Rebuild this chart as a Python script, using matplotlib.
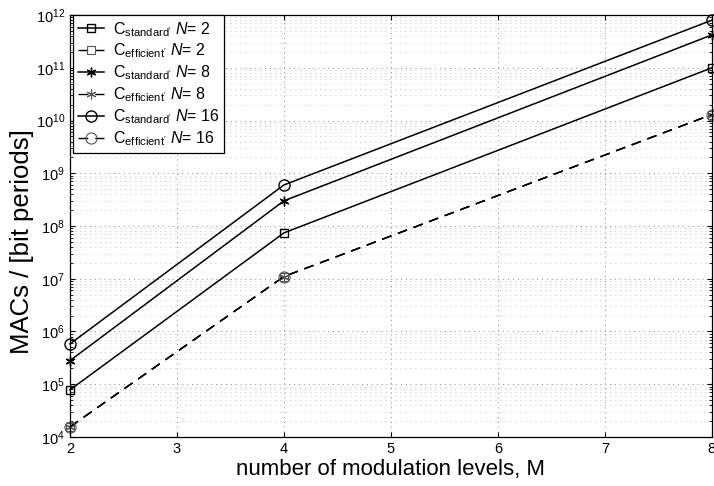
import numpy as np
import matplotlib.pyplot as plt

plt.rcParams['font.family'] = ['Liberation Sans', 'DejaVu Sans']
plt.rcParams['mathtext.fontset'] = 'custom'
plt.rcParams['mathtext.rm'] = 'Liberation Sans'
plt.rcParams['mathtext.it'] = 'Liberation Sans:italic'

# modulation levels
M = [2, 4, 8]

# MACs per bit period
std_N2 = [7.8e4, 7.4e7, 1.0e11]
std_N8 = [2.8e5, 3.0e8, 4.2e11]
std_N16 = [5.8e5, 6.0e8, 8.0e11]
eff_N2 = [1.55e4, 1.1e7, 1.3e10]
eff_N8 = [1.55e4, 1.1e7, 1.3e10]
eff_N16 = [1.55e4, 1.1e7, 1.3e10]

labels = [
    r"C$_{\mathrm{standard'}}$ $\mathit{N}$= 2",
    r"C$_{\mathrm{efficient'}}$ $\mathit{N}$= 2",
    r"C$_{\mathrm{standard'}}$ $\mathit{N}$= 8",
    r"C$_{\mathrm{efficient'}}$ $\mathit{N}$= 8",
    r"C$_{\mathrm{standard'}}$ $\mathit{N}$= 16",
    r"C$_{\mathrm{efficient'}}$ $\mathit{N}$= 16",
]

fig = plt.figure(figsize=(7.14, 4.86), dpi=100)
ax = fig.add_axes([0.098, 0.101, 0.899, 0.868])

series = [std_N2, eff_N2, std_N8, eff_N8, std_N16, eff_N16]
asterisk = (6, 2, 0)
markers = ['s', 's', asterisk, asterisk, 'o', 'o']
sizes = [6, 6, 7, 7, 8, 8]
for i, (vals, mk, sz, lab) in enumerate(zip(series, markers, sizes, labels)):
    if i % 2 == 0:
        ax.plot(M, vals, color='black', lw=1.1, marker=mk, ms=sz,
                mfc='none', mec='black', mew=1.0, label=lab, clip_on=False)
    else:
        ax.plot(M, vals, color='black', lw=1.0, ls=(0, (7, 5)), marker=mk,
                ms=sz, mfc='none', mec='#555555', mew=0.8,
                label=lab, clip_on=False)

ax.set_yscale('log')
ax.set_xlim(2, 8)
ax.set_ylim(1e4, 1e12)
ax.set_yticks([10.0 ** k for k in range(4, 13)])
ax.set_xticks(range(2, 9))

ax.grid(True, which='major', ls=(0, (1, 4)), color='#888888', lw=0.7)
ax.grid(True, which='minor', axis='y', ls=(0, (1, 5)), color='#aaaaaa', lw=0.6)
ax.tick_params(which='both', direction='in', top=True, right=True)
ax.tick_params(axis='both', labelsize=10.5)
for s in ax.spines.values():
    s.set_linewidth(0.9)

ax.set_xlabel('number of modulation levels, M', fontsize=16, labelpad=2)
ax.set_ylabel('MACs / [bit periods]', fontsize=18.5)
ax.yaxis.set_label_coords(-0.056, 0.464)

leg = ax.legend(loc='upper left', fontsize=11.5, frameon=True, fancybox=False,
                edgecolor='black', framealpha=1, handlelength=1.6,
                handletextpad=0.6, bbox_to_anchor=(0.005, 1.0),
                borderaxespad=0.0, labelspacing=0.2, borderpad=0.3)
leg.get_frame().set_linewidth(0.9)

fig.savefig('out.png', dpi=100)
